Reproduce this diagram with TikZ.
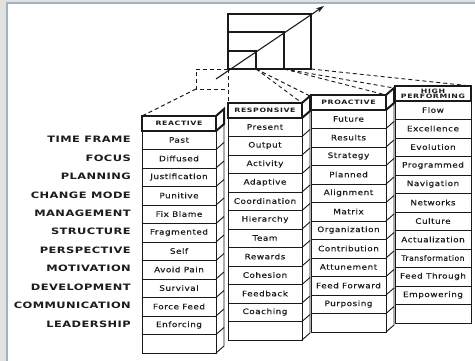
\documentclass[tikz,border=0pt]{standalone}
\usepackage{fontspec}
\usepackage{graphicx}
\usetikzlibrary{arrows.meta}
\newfontfamily\cellfont[FakeStretch=1.18,LetterSpace=7,FakeBold=0.35]{DejaVu Sans}
\newfontfamily\capfont[FakeStretch=1.3,LetterSpace=10]{DejaVu Sans Bold}
\newfontfamily\rowfont[FakeStretch=1.3,LetterSpace=5]{DejaVu Sans Bold}
\definecolor{ink}{HTML}{1A1A1A}
\definecolor{txt}{HTML}{1C1C1C}
\definecolor{bgray}{HTML}{E4E2DE}
\definecolor{frameblue}{HTML}{9DB3CC}
\tikzset{
  cellline/.style={draw=ink, line width=0.9pt},
  labline/.style={draw=ink, line width=2pt, line join=miter},
  stairline/.style={draw=ink, line width=1.1pt},
  dashline/.style={draw=ink, line width=0.9pt, dash pattern=on 4pt off 3pt},
  celltext/.style={font=\cellfont\fontsize{7.5}{8}\selectfont, text=txt, inner sep=0pt},
  labtext/.style={font=\capfont\fontsize{6}{5.8}\selectfont, text=txt, inner sep=0pt, align=center},
  rowlab/.style={font=\rowfont\fontsize{8.8}{9}\selectfont, text=txt, inner sep=0pt, anchor=east}
}
\def\colA{Past,Diffused,Justification,Punitive,Fix Blame,Fragmented,Self,Avoid Pain,Survival,Force Feed,Enforcing}
\def\colB{Present,Output,Activity,Adaptive,Coordination,Hierarchy,Team,Rewards,Cohesion,Feedback,Coaching}
\def\colC{Future,Results,Strategy,Planned,Alignment,Matrix,Organization,Contribution,Attunement,Feed Forward,Purposing}
\def\colD{Flow,Excellence,Evolution,Programmed,Navigation,Networks,Culture,Actualization,{\scalebox{0.86}[1]{Transformation}},Feed Through,Empowering}
% #1 id, #2 x, #3 width, #4 top, #5 label, #6 list, #7 side panel (1/0)
\newcommand\drawcol[7]{%
  \pgfmathsetmacro\xl{#2}%
  \pgfmathsetmacro\xr{#2+#3}%
  \pgfmathsetmacro\xm{#2+#3/2}%
  \pgfmathsetmacro\ya{#4}%
  \pgfmathsetmacro\yc{#4+15}%
  \pgfmathsetmacro\yb{#4+15+12*18.5}%
  \ifnum#7=1
    \draw[cellline] (\xr,\yc) -- ++(8,-7) -- (\xr+8,\yb-7) -- (\xr,\yb);
    \foreach \k in {1,...,11} \draw[cellline] (\xr,\yc+\k*18.5) -- ++(8,-7);
    \draw[labline] (\xr,\ya) -- ++(8,-7) -- (\xr+8,\yc-7) -- (\xr,\yc);
  \fi
  \draw[cellline] (\xl,\yc) rectangle (\xr,\yb);
  \foreach \k in {1,...,11} \draw[cellline] (\xl,\yc+\k*18.5) -- (\xr,\yc+\k*18.5);
  \draw[labline] (\xl,\ya) rectangle (\xr,\yc);
  \node[labtext] (#1-lab) at (\xm,\ya+7.5) {#5};
  \foreach \t [count=\r] in #6 \node[celltext] (#1-\r) at (\xm,\yc+\r*18.5-9.5) {\t};
}
\begin{document}
\begin{tikzpicture}[x=1pt,y=-1pt]
\useasboundingbox (0,0) rectangle (475,361);
\fill[bgray] (0,0) rectangle (475,361);
\fill[white] (7,3) rectangle (475,361);
\draw[frameblue, line width=1.3pt] (7,361) -- (7,3) -- (475,3);

% staircase
\coordinate (st0) at (228,14);
\coordinate (st1) at (311,69);
\draw[stairline] (st0) rectangle (st1);
\draw[stairline] (228,32) -- (284,32) -- (284,69);
\draw[stairline] (228,51) -- (256,51) -- (256,69);
\draw[line width=1.1pt, ink, -{Stealth[length=8pt,width=5pt]}] (216,79) -- (324,6);

% columns
\drawcol{A}{142}{74}{116}{REACTIVE}{\colA}{1}
\drawcol{B}{228}{74}{103}{RESPONSIVE}{\colB}{1}
\drawcol{C}{311}{75}{95}{PROACTIVE}{\colC}{1}
\drawcol{D}{395}{76}{86}{HIGH\\[-0.5pt]PERFORMING}{\colD}{0}

% dashed projections
\coordinate (d0) at (196,69);
\coordinate (d1) at (196,89);
\coordinate (d2) at (228,89);
\coordinate (d3) at (228,69);
\coordinate (d4) at (256,69);
\coordinate (d5) at (284,69);
\coordinate (d6) at (311,69);
\draw[dashline] (d3) -- (d0) -- (d1) -- (d2);
\draw[dashline] (d1) -- (142,116);
\draw[dashline] (d3) -- (228,103);
\draw[dashline] (d4) -- (302,103);
\draw[dashline] (d4) -- (310,96);
\draw[dashline] (d5) -- (386,95);
\draw[dashline] (d5) -- (394,88);
\draw[dashline] (d6) -- (471,86);

% row labels
\foreach \t [count=\r] in {TIME FRAME,FOCUS,PLANNING,CHANGE MODE,MANAGEMENT,STRUCTURE,PERSPECTIVE,MOTIVATION,DEVELOPMENT,COMMUNICATION,LEADERSHIP}
  \node[rowlab] (L\r) at (131,130.5+\r*18.45-9.5) {\t};
\end{tikzpicture}
\end{document}
